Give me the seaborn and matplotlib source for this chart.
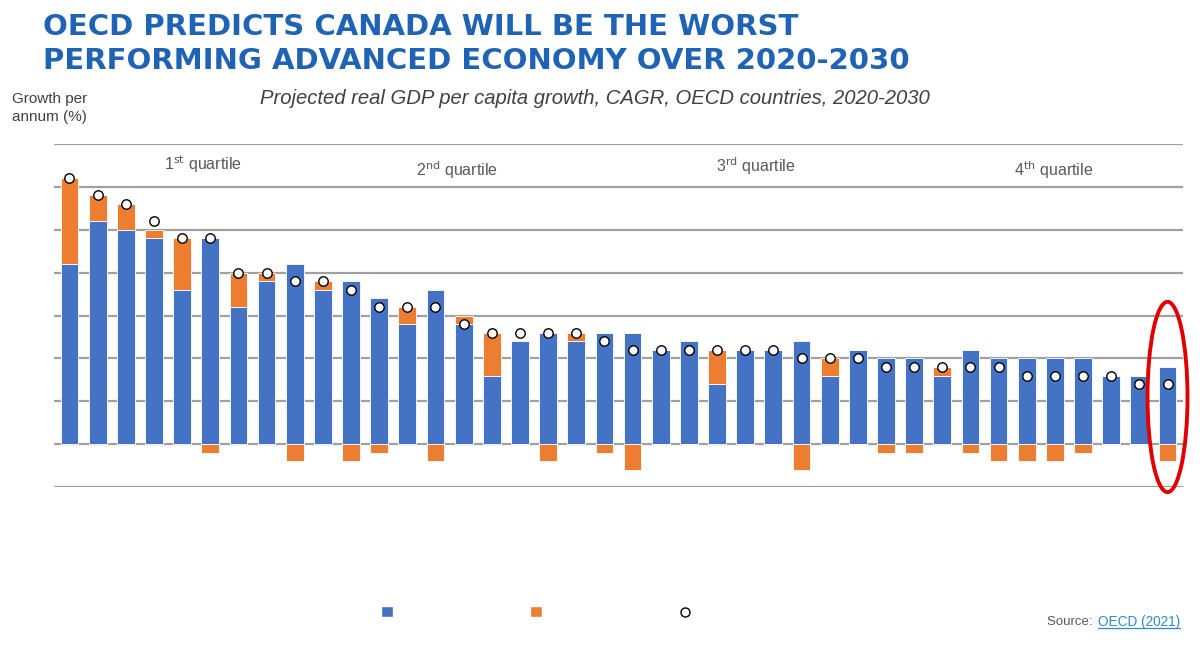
import numpy as np
import pandas as pd
import seaborn as sns
import matplotlib.pyplot as plt
from matplotlib.patches import Patch, Ellipse
from matplotlib.lines import Line2D

# valores (% a.a., 2020-2030), 40 países em ordem
blue = [2.1, 2.6, 2.5, 2.4, 1.8, 2.4, 1.6, 1.9, 2.1, 1.8,
        1.9, 1.7, 1.4, 1.8, 1.4, 0.8, 1.2, 1.3, 1.2, 1.3,
        1.3, 1.1, 1.2, 0.7, 1.1, 1.1, 1.2, 0.8, 1.1, 1.0,
        1.0, 0.8, 1.1, 1.0, 1.0, 1.0, 1.0, 0.8, 0.8, 0.9]
orange = [1.0, 0.3, 0.3, 0.1, 0.6, -0.1, 0.4, 0.1, -0.2, 0.1,
          -0.2, -0.1, 0.2, -0.2, 0.1, 0.5, 0.0, -0.2, 0.1, -0.1,
          -0.3, 0.0, 0.0, 0.4, 0.0, 0.0, -0.3, 0.2, 0.0, -0.1,
          -0.1, 0.1, -0.1, -0.2, -0.2, -0.2, -0.1, 0.0, 0.0, -0.2]
total = [3.1, 2.9, 2.8, 2.6, 2.4, 2.4, 2.0, 2.0, 1.9, 1.9,
         1.8, 1.6, 1.6, 1.6, 1.4, 1.3, 1.3, 1.3, 1.3, 1.2,
         1.1, 1.1, 1.1, 1.1, 1.1, 1.1, 1.0, 1.0, 1.0, 0.9,
         0.9, 0.9, 0.9, 0.9, 0.8, 0.8, 0.8, 0.8, 0.7, 0.7]
quartiles = [r'1$^{\rm st}$ quartile', r'2$^{\rm nd}$ quartile',
             r'3$^{\rm rd}$ quartile', r'4$^{\rm th}$ quartile']
quartile_x = [4.75, 13.77, 24.36, 34.95]
quartile_y = [3.26, 3.19, 3.24, 3.19]
grid_levels = [-0.5, 0, 0.5, 1.0, 1.5, 2.0, 2.5, 3.0, 3.5]

df = pd.DataFrame({'pos': range(len(blue)), 'blue': blue, 'orange': orange, 'total': total})
df['orange_bottom'] = np.where(df['orange'] > 0, df['blue'], 0)

BLUE = '#4472C4'
ORANGE = '#ED7D31'
GRAY = '#595959'

sns.set_style('white')
plt.rcParams['font.family'] = ['Liberation Sans', 'DejaVu Sans']

fig = plt.figure(figsize=(12, 6.45), dpi=100, facecolor='white')
ax = fig.add_axes([54 / 1200, 1 - 487 / 645, (1183 - 54) / 1200, (487 - 144) / 645])

for g in grid_levels:
    ax.axhline(g, color='#a0a0a0', lw=1.6, zorder=0)

sns.barplot(data=df, x='pos', y='blue', color=BLUE, width=0.63, saturation=1,
            edgecolor='white', linewidth=0.6, ax=ax, zorder=2)
ax.bar(df['pos'], df['orange'], bottom=df['orange_bottom'], width=0.63,
       color=ORANGE, edgecolor='white', linewidth=0.6, zorder=2)
sns.scatterplot(data=df, x='pos', y='total', s=46, color='white', edgecolor='black',
                linewidth=1, ax=ax, zorder=4)

for lab, qx, qy in zip(quartiles, quartile_x, quartile_y):
    ax.text(qx, qy, lab, ha='center', va='center', fontsize=11.5, color=GRAY)

# destaque do Canadá (último)
ax.add_patch(Ellipse((len(blue) - 1, 0.55), 1.42, 2.22, fill=False, edgecolor='#E00000',
                     lw=2.8, clip_on=False, zorder=5))

ax.set_xlim(-0.55, 39.55)
ax.set_ylim(-0.5, 3.5)
ax.set_xticks([])
ax.set_yticks([])
ax.set_xlabel('')
ax.set_ylabel('')
for s in ax.spines.values():
    s.set_visible(False)
ax.set_facecolor('white')

fig.text(43 / 1200, 1 - 13 / 645, 'OECD PREDICTS CANADA WILL BE THE WORST\nPERFORMING ADVANCED ECONOMY OVER 2020-2030',
         ha='left', va='top', fontsize=21, fontweight='bold', color='#1F63B5',
         family='DejaVu Sans', linespacing=1.27)
fig.text(595 / 1200, 1 - 99 / 645, 'Projected real GDP per capita growth, CAGR, OECD countries, 2020-2030',
         ha='center', va='center', fontsize=14.6, style='italic', color='#404040')
fig.text(12 / 1200, 1 - 108 / 645, 'Growth per\nannum (%)', ha='left', va='center',
         fontsize=11, color='#404040', linespacing=1.35)

handles = [Patch(facecolor=BLUE, edgecolor='white'),
           Patch(facecolor=ORANGE, edgecolor='white'),
           Line2D([], [], marker='o', ls='none', markerfacecolor='white',
                  markeredgecolor='black', markersize=6.5)]
fig.legend(handles, ['', '', ''], loc='center', bbox_to_anchor=(536 / 1200, 1 - 613 / 645),
           ncol=3, frameon=False, handlelength=0.75, handleheight=0.75, handletextpad=0,
           columnspacing=9.0, fontsize=11)

src = fig.text(1096 / 1200, 1 - 622 / 645, 'Source: ', ha='right', va='center',
               fontsize=9.5, color='#595959')
link = fig.text(1098 / 1200, 1 - 622 / 645, 'OECD (2021)', ha='left', va='center',
                fontsize=9.8, color='#2E8BC9')
fig.canvas.draw()
bb = link.get_window_extent().transformed(fig.transFigure.inverted())
fig.add_artist(Line2D([bb.x0, bb.x1], [bb.y0 + 0.002, bb.y0 + 0.002], color='#2E8BC9', lw=0.9))

fig.savefig('out.png', dpi=100, facecolor='white')
